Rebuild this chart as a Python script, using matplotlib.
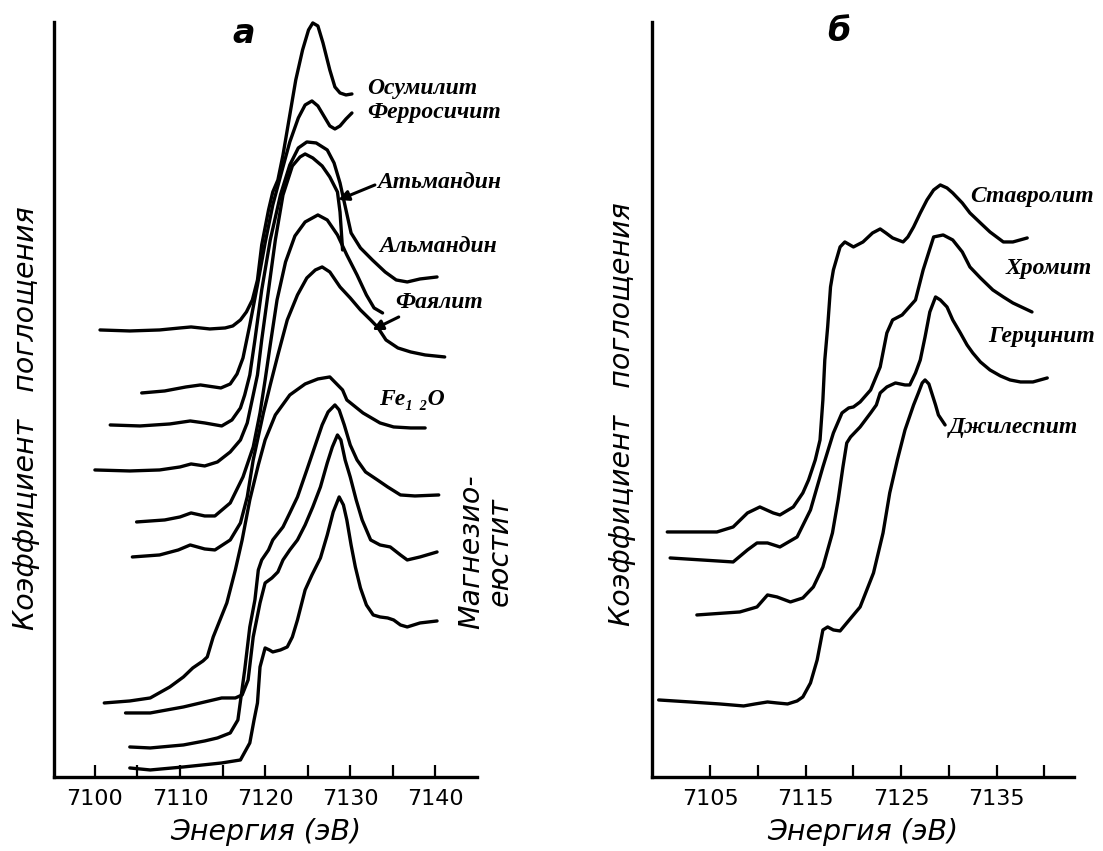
import matplotlib
matplotlib.use('Agg')
import matplotlib.pyplot as plt

# Спектры XANES Fe K-края: энергия (эВ) и поглощение (отн. ед., кривые сдвинуты)
# ---- панель а ----
osumilit_e = [7100.6, 7104.1, 7107.6, 7110.0, 7111.3, 7113.5, 7115.3, 7116.2, 7117.1, 7117.8,
              7118.5, 7119.1, 7119.6, 7120.4, 7120.9, 7121.5, 7122.1, 7122.9, 7123.6, 7124.4,
              7125.1, 7125.6, 7126.2, 7126.8, 7127.6, 7128.2, 7128.8, 7129.5, 7130.2]
osumilit_mu = [4.47, 4.46, 4.47, 4.49, 4.50, 4.48, 4.49, 4.51, 4.57, 4.65,
               4.77, 4.97, 5.32, 5.67, 5.85, 5.97, 6.22, 6.62, 6.97, 7.27,
               7.47, 7.54, 7.51, 7.34, 7.07, 6.90, 6.84, 6.82, 6.83]

ferrosilit_e = [7105.5, 7108.2, 7110.7, 7112.4, 7114.8, 7115.9, 7116.7, 7117.4, 7118.2, 7119.1,
                7120.0, 7120.9, 7122.0, 7122.9, 7123.9, 7124.7, 7125.5, 7126.2, 7126.9, 7127.6,
                7128.2, 7128.8, 7129.5, 7130.2]
ferrosilit_mu = [3.84, 3.86, 3.90, 3.92, 3.89, 3.93, 4.03, 4.19, 4.52, 4.92,
                 5.34, 5.72, 6.07, 6.35, 6.59, 6.72, 6.76, 6.71, 6.61, 6.51,
                 6.48, 6.51, 6.58, 6.64]

almandin1_e = [7101.8, 7105.3, 7108.8, 7111.2, 7112.9, 7114.9, 7116.1, 7117.1, 7117.6, 7118.2,
               7118.8, 7119.6, 7120.6, 7121.8, 7122.9, 7123.9, 7124.9, 7126.0, 7127.3, 7128.1,
               7128.8, 7129.5, 7130.1, 7131.2, 7132.6, 7134.1, 7135.4, 7136.7, 7138.2, 7140.2]
almandin1_mu = [3.52, 3.51, 3.53, 3.56, 3.54, 3.51, 3.57, 3.69, 3.82, 4.02,
                4.37, 4.87, 5.37, 5.82, 6.12, 6.29, 6.35, 6.34, 6.27, 6.14,
                5.94, 5.67, 5.44, 5.29, 5.17, 5.05, 4.97, 4.95, 4.98, 5.00]

almandin2_e = [7100.0, 7104.1, 7107.6, 7110.0, 7111.3, 7112.9, 7114.4, 7115.9, 7117.1, 7117.9,
               7118.6, 7119.1, 7119.6, 7120.4, 7121.2, 7122.1, 7123.2, 7124.1, 7124.7, 7125.6,
               7126.7, 7127.6, 7128.5, 7128.8, 7129.1]
almandin2_mu = [3.07, 3.06, 3.07, 3.10, 3.13, 3.11, 3.15, 3.25, 3.37, 3.54,
                3.82, 4.02, 4.37, 4.87, 5.37, 5.82, 6.11, 6.20, 6.23, 6.19,
                6.11, 6.00, 5.85, 5.65, 5.27]

curve5_e = [7104.9, 7108.2, 7110.0, 7111.3, 7112.9, 7114.1, 7115.9, 7117.4, 7118.6, 7119.4,
            7120.0, 7120.6, 7121.4, 7122.4, 7123.5, 7124.7, 7126.2, 7127.3, 7128.5, 7129.6,
            7130.8, 7131.9, 7132.8, 7133.8]
curve5_mu = [2.55, 2.57, 2.60, 2.64, 2.61, 2.61, 2.74, 3.00, 3.30, 3.64,
             3.97, 4.32, 4.77, 5.15, 5.41, 5.55, 5.62, 5.57, 5.42, 5.22,
             5.02, 4.82, 4.69, 4.64]

fayalit_e = [7104.4, 7107.6, 7109.8, 7111.2, 7112.9, 7114.1, 7115.9, 7117.1, 7117.9, 7118.6,
             7119.8, 7120.6, 7121.5, 7122.6, 7123.8, 7124.9, 7125.9, 7126.7, 7127.6, 7128.8,
             7130.0, 7131.2, 7132.4, 7133.2, 7134.2, 7135.6, 7137.1, 7138.8, 7141.1]
fayalit_mu = [2.20, 2.22, 2.27, 2.32, 2.28, 2.27, 2.37, 2.54, 2.80, 3.17,
              3.64, 3.92, 4.22, 4.57, 4.82, 4.99, 5.07, 5.10, 5.05, 4.90,
              4.79, 4.67, 4.57, 4.50, 4.37, 4.29, 4.25, 4.22, 4.20]

wustite_e = [7101.1, 7104.1, 7106.5, 7108.8, 7110.4, 7111.5, 7112.7, 7113.2, 7113.9, 7114.7,
             7115.5, 7116.5, 7117.3, 7118.2, 7119.2, 7120.0, 7121.2, 7122.9, 7124.7, 7126.2,
             7127.6, 7129.1, 7129.6, 7131.5, 7133.5, 7135.1, 7137.1, 7138.8]
wustite_mu = [0.74, 0.76, 0.79, 0.90, 1.00, 1.09, 1.16, 1.20, 1.40, 1.57,
              1.74, 2.07, 2.37, 2.77, 3.12, 3.37, 3.62, 3.82, 3.93, 3.98,
              4.00, 3.87, 3.77, 3.64, 3.54, 3.50, 3.49, 3.49]

mw1_e = [7103.6, 7106.5, 7110.4, 7112.9, 7114.9, 7116.5, 7117.3, 7118.0, 7118.6, 7119.4,
         7120.0, 7120.8, 7121.5, 7122.1, 7122.9, 7123.8, 7124.7, 7125.6, 7126.5, 7127.3,
         7127.9, 7128.5, 7128.9, 7129.4, 7130.0, 7130.7, 7131.4, 7132.4, 7133.5, 7134.7,
         7135.9, 7136.7, 7138.2, 7140.2]
mw1_mu = [0.64, 0.64, 0.70, 0.75, 0.79, 0.79, 0.82, 0.97, 1.40, 1.74,
          1.94, 1.99, 2.05, 2.17, 2.27, 2.37, 2.52, 2.70, 2.90, 3.14,
          3.30, 3.42, 3.37, 3.17, 3.00, 2.77, 2.57, 2.37, 2.32, 2.30,
          2.22, 2.17, 2.20, 2.25]

mw2_e = [7104.1, 7106.5, 7110.4, 7112.9, 7114.4, 7115.9, 7116.8, 7117.6, 7118.2, 7118.8,
         7119.2, 7119.6, 7120.4, 7120.9, 7122.1, 7122.9, 7123.8, 7124.9, 7125.9, 7126.7,
         7127.4, 7128.2, 7128.7, 7129.3, 7130.0, 7130.8, 7131.8, 7133.2, 7134.4, 7135.9,
         7137.6, 7140.4]
mw2_mu = [0.30, 0.29, 0.32, 0.36, 0.39, 0.44, 0.57, 1.07, 1.50, 1.77,
          2.07, 2.17, 2.27, 2.37, 2.50, 2.64, 2.80, 3.07, 3.32, 3.52,
          3.65, 3.72, 3.67, 3.52, 3.32, 3.17, 3.05, 2.97, 2.90, 2.82,
          2.81, 2.82]

mw3_e = [7104.1, 7106.5, 7110.4, 7114.9, 7117.1, 7118.2, 7118.7, 7119.1, 7119.4, 7120.0,
         7120.5, 7120.9, 7121.8, 7122.6, 7123.2, 7123.8, 7124.7, 7125.5, 7126.5, 7127.3,
         7128.0, 7128.7, 7129.2, 7129.6, 7130.1, 7130.6, 7131.2, 7131.9, 7132.7, 7133.5,
         7134.4, 7135.1, 7135.9, 7136.7, 7138.2, 7140.2]
mw3_mu = [0.09, 0.07, 0.10, 0.14, 0.17, 0.34, 0.57, 0.74, 1.10, 1.29,
          1.27, 1.25, 1.27, 1.30, 1.40, 1.57, 1.87, 2.02, 2.19, 2.42,
          2.65, 2.80, 2.72, 2.57, 2.32, 2.10, 1.89, 1.72, 1.62, 1.60,
          1.59, 1.57, 1.52, 1.50, 1.54, 1.56]

# ---- панель б ----
stavrolit_e = [7100.5, 7105.7, 7107.4, 7108.9, 7110.2, 7111.6, 7112.3, 7113.7, 7114.7, 7115.3,
               7116.0, 7116.5, 7116.8, 7117.0, 7117.3, 7117.6, 7117.9, 7118.6, 7119.1, 7120.0,
               7121.0, 7122.0, 7122.8, 7123.4, 7124.1, 7125.2, 7125.7, 7126.3, 7127.0, 7127.7,
               7128.4, 7129.1, 7129.8, 7130.4, 7131.4, 7132.2, 7133.3, 7134.3, 7135.7, 7136.7,
               7138.2]
stavrolit_mu = [2.45, 2.45, 2.50, 2.64, 2.70, 2.64, 2.62, 2.70, 2.84, 2.97,
                3.17, 3.37, 3.77, 4.17, 4.50, 4.90, 5.07, 5.30, 5.35, 5.30,
                5.35, 5.44, 5.48, 5.44, 5.39, 5.35, 5.40, 5.50, 5.64, 5.77,
                5.87, 5.92, 5.89, 5.84, 5.74, 5.64, 5.54, 5.45, 5.35, 5.35,
                5.39]

khromit_e = [7100.8, 7107.4, 7108.9, 7109.9, 7111.0, 7112.3, 7114.1, 7115.5, 7116.8, 7117.9,
             7118.8, 7119.5, 7120.0, 7120.7, 7121.8, 7122.8, 7123.5, 7124.1, 7125.1, 7126.5,
             7127.3, 7128.4, 7129.4, 7130.4, 7131.4, 7132.2, 7133.3, 7134.6, 7135.7, 7136.7,
             7138.7]
khromit_mu = [2.19, 2.15, 2.27, 2.34, 2.34, 2.30, 2.40, 2.67, 3.10, 3.44,
              3.64, 3.69, 3.70, 3.75, 3.87, 4.10, 4.44, 4.57, 4.62, 4.77,
              5.07, 5.40, 5.42, 5.37, 5.25, 5.10, 4.99, 4.87, 4.80, 4.74,
              4.65]

gercinit_e = [7103.6, 7108.1, 7109.9, 7111.0, 7112.0, 7113.4, 7114.7, 7115.8, 7116.8, 7117.8,
              7118.4, 7118.9, 7119.3, 7119.7, 7120.7, 7121.8, 7122.4, 7122.8, 7123.5, 7124.4,
              7125.4, 7125.9, 7126.5, 7127.0, 7127.5, 7128.0, 7128.6, 7129.1, 7129.8, 7130.4,
              7131.2, 7131.9, 7132.5, 7133.3, 7134.3, 7135.4, 7136.4, 7137.5, 7138.8, 7140.3]
gercinit_mu = [1.62, 1.65, 1.70, 1.82, 1.80, 1.75, 1.79, 1.90, 2.10, 2.44,
               2.77, 3.10, 3.34, 3.40, 3.50, 3.64, 3.72, 3.84, 3.90, 3.94,
               3.92, 3.92, 4.04, 4.17, 4.40, 4.65, 4.80, 4.77, 4.70, 4.57,
               4.44, 4.32, 4.24, 4.15, 4.07, 4.01, 3.97, 3.95, 3.95, 3.99]

gillespit_e = [7099.6, 7102.9, 7106.0, 7108.5, 7109.7, 7111.0, 7112.0, 7113.1, 7114.1, 7114.7,
               7115.5, 7116.2, 7116.8, 7117.3, 7117.9, 7118.6, 7119.3, 7120.7, 7122.1, 7123.1,
               7123.8, 7124.6, 7125.4, 7126.3, 7126.8, 7127.2, 7127.5, 7127.9, 7128.2, 7128.6,
               7128.9, 7129.6]
gillespit_mu = [0.77, 0.75, 0.73, 0.71, 0.73, 0.75, 0.74, 0.73, 0.76, 0.80,
                0.94, 1.17, 1.47, 1.50, 1.47, 1.46, 1.54, 1.70, 2.04, 2.44,
                2.84, 3.17, 3.47, 3.72, 3.84, 3.94, 3.97, 3.93, 3.84, 3.72,
                3.62, 3.52]

ticks_a = list(range(7100, 7141, 5))
ticklabels_a = [str(t) if t % 10 == 0 else '' for t in ticks_a]
ticks_b = list(range(7105, 7141, 5))
ticklabels_b = [str(t) if t % 10 == 5 else '' for t in ticks_b]

curves_a = [(osumilit_e, osumilit_mu), (ferrosilit_e, ferrosilit_mu),
            (almandin1_e, almandin1_mu), (almandin2_e, almandin2_mu),
            (curve5_e, curve5_mu), (fayalit_e, fayalit_mu), (wustite_e, wustite_mu),
            (mw1_e, mw1_mu), (mw2_e, mw2_mu), (mw3_e, mw3_mu)]
curves_b = [(stavrolit_e, stavrolit_mu), (khromit_e, khromit_mu),
            (gercinit_e, gercinit_mu), (gillespit_e, gillespit_mu)]

serif = ['Liberation Serif', 'DejaVu Serif']
lab = dict(family=serif, fontweight='bold', fontstyle='italic', fontsize=17,
           ha='left', va='center')

fig = plt.figure(figsize=(11.03, 8.51), dpi=100)
ax_a = fig.add_axes([0.0490, 0.0870, 0.3835, 0.8872])
ax_b = fig.add_axes([0.5911, 0.0870, 0.3826, 0.8872])

for ax in (ax_a, ax_b):
    for s in ('top', 'right'):
        ax.spines[s].set_visible(False)
    for s in ('left', 'bottom'):
        ax.spines[s].set_linewidth(2.4)
    ax.set_yticks([])
    ax.set_ylim(0, 7.55)
    ax.tick_params(axis='x', direction='in', length=8.5, width=1.6, pad=9, labelsize=16)
    ax.set_xlabel('Энергия (эВ)', fontsize=20.5, fontstyle='italic', labelpad=6)
    ax.set_ylabel('Коэффициент   поглощения', fontsize=20.5, fontstyle='italic')

ax_a.set_xlim(7095.2, 7144.9)
ax_a.set_xticks(ticks_a)
ax_a.set_xticklabels(ticklabels_a)
ax_a.yaxis.set_label_coords(-0.034, 0.475)

ax_b.set_xlim(7098.9, 7143.1)
ax_b.set_xticks(ticks_b)
ax_b.set_xticklabels(ticklabels_b)
ax_b.yaxis.set_label_coords(-0.038, 0.48)

for e, mu in curves_a:
    ax_a.plot(e, mu, color='black', lw=2.4, solid_joinstyle='round',
              solid_capstyle='round', clip_on=False)
for e, mu in curves_b:
    ax_b.plot(e, mu, color='black', lw=2.4, solid_joinstyle='round',
              solid_capstyle='round', clip_on=False)

# подписи панели а
ax_a.text(7117.5, 7.43, 'а', fontsize=24, fontweight='bold', fontstyle='italic',
          ha='center', va='center')
ax_a.text(7132.0, 6.88, 'Осумилит', **lab)
ax_a.text(7132.0, 6.64, 'Ферросичит', **lab)
ax_a.text(7133.2, 5.94, 'Атьмандин', **lab)
ax_a.text(7133.4, 5.30, 'Альмандин', **lab)
ax_a.text(7135.3, 4.74, 'Фаялит', **lab)
ax_a.text(7133.4, 3.77, 'Fe₁ ₂O', **lab)
ax_a.text(7145.9, 2.25, 'Магнезио-\nеюстит', fontsize=20.5, fontstyle='italic',
          rotation=90, ha='center', va='center', multialignment='center',
          linespacing=1.0)
arrow = dict(arrowstyle='-|>,head_length=0.6,head_width=0.3', color='black', lw=2.2,
             shrinkA=0, shrinkB=0)
ax_a.annotate('', xy=(7128.6, 5.77), xytext=(7132.9, 5.92), arrowprops=arrow)
ax_a.annotate('', xy=(7132.6, 4.47), xytext=(7135.7, 4.60), arrowprops=arrow)

# подписи панели б
ax_b.text(7118.5, 7.45, 'б', fontsize=24, fontweight='bold', fontstyle='italic',
          ha='center', va='center')
ax_b.text(7132.2, 5.80, 'Ставролит', **lab)
ax_b.text(7135.9, 5.08, 'Хромит', **lab)
ax_b.text(7134.1, 4.40, 'Герцинит', **lab)
ax_b.text(7130.0, 3.49, 'Джилеспит', **lab)

fig.savefig('out.png', dpi=100)
